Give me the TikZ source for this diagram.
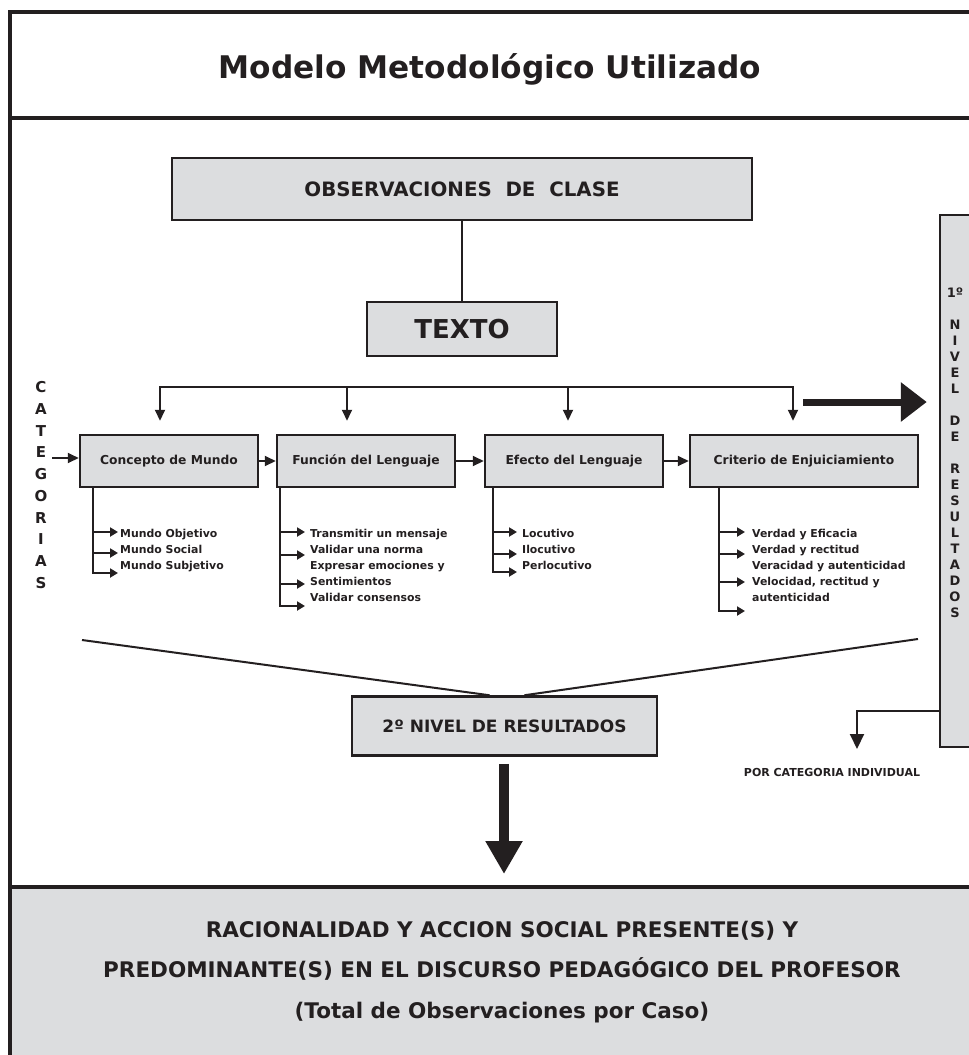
\documentclass[tikz,border=0pt]{standalone}
\usepackage{fontspec}
\setmainfont{DejaVu Sans}
\usetikzlibrary{arrows.meta, calc}
\definecolor{boxgray}{RGB}{220,221,223}
\definecolor{ink}{RGB}{35,31,32}
\tikzstyle{frameline} = [draw=ink, line width=4pt]
\tikzstyle{graybox} = [rectangle, draw=ink, line width=2.5pt, fill=boxgray, inner sep=0pt]
\tikzstyle{catbox} = [graybox, minimum width=178pt, minimum height=52pt, font=\bfseries\fontsize{12.3}{14}\selectfont]
\tikzstyle{conn} = [draw=ink, line width=2pt]
\tikzstyle{arrow} = [conn, -{Triangle[length=11pt,width=10pt]}]
\tikzstyle{smallarrow} = [conn, -{Triangle[length=8pt,width=9pt]}]
\tikzstyle{bigarrow} = [draw=ink, line width=10pt, -{Triangle[length=33pt,width=35pt]}]
\tikzstyle{items} = [anchor=north west, align=left, inner sep=0pt, font=\bfseries\fontsize{10.9}{16}\selectfont]

\begin{document}
\begin{tikzpicture}[x=1pt, y=-1pt, font=\bfseries, text=ink]
	\useasboundingbox (0,0) rectangle (969,1055);
	\clip (0,0) rectangle (969,1055);
	% marco general
	\fill[boxgray] (10,887) rectangle (1000,1100);
	\draw[frameline] (10,12) rectangle (1000,1100);
	\draw[frameline] (10,118) -- (1000,118);
	\draw[frameline] (10,887) -- (1000,887);
	\node (titulo) [font=\bfseries\fontsize{31.2}{36}\selectfont] at (490,69) {Modelo Metodológico Utilizado};

	\node (obs) [graybox, minimum width=580pt, minimum height=62pt, font=\bfseries\fontsize{19.8}{22}\selectfont] at (462,189) {OBSERVACIONES\ \ DE\ \ CLASE};
	\node (texto) [graybox, minimum width=190pt, minimum height=54pt, font=\bfseries\fontsize{26}{28}\selectfont] at (462,329) {TEXTO};
	\node (concepto) [catbox] at (169,461) {Concepto de Mundo};
	\node (funcion) [catbox] at (366,461) {Función del Lenguaje};
	\node (efecto) [catbox] at (574,461) {Efecto del Lenguaje};
	\node (criterio) [catbox, minimum width=228pt] at (804,461) {Criterio de Enjuiciamiento};
	\node (cat) [align=center, font=\bfseries\fontsize{15}{21.7}\selectfont] at (41,485) {C\\A\\T\\E\\G\\O\\R\\I\\A\\S};
	\node (nivel1) [graybox, minimum width=31pt, minimum height=532pt] at (955.5,481) {};
	\node (nivel1txt) [align=center, font=\bfseries\fontsize{13}{16}\selectfont] at (955,453) {1º\\[16pt]N\\I\\V\\E\\L\\[16pt]D\\E\\[16pt]R\\E\\S\\U\\L\\T\\A\\D\\O\\S};
	\node (nivel2) [graybox, minimum width=305pt, minimum height=59pt, font=\bfseries\fontsize{17}{20}\selectfont] at (504.5,726) {2º NIVEL DE RESULTADOS};
	\node (porcat) [font=\bfseries\fontsize{11}{12}\selectfont] at (832,772) {POR CATEGORIA INDIVIDUAL};
	\node (final) [align=center, font=\bfseries\fontsize{21.5}{40.5}\selectfont] at (502,972) {RACIONALIDAD Y ACCION SOCIAL PRESENTE(S) Y\\PREDOMINANTE(S) EN EL DISCURSO PEDAGÓGICO DEL PROFESOR\\(Total de Observaciones por Caso)};

	% listas de cada categoria
	\node (lista1) [items] at (120,529) {Mundo Objetivo\\Mundo Social\\Mundo Subjetivo};
	\node (lista2) [items] at (310,529) {Transmitir un mensaje\\Validar una norma\\Expresar emociones y\\Sentimientos\\Validar consensos};
	\node (lista3) [items] at (522,529) {Locutivo\\Ilocutivo\\Perlocutivo};
	\node (lista4) [items] at (752,529) {Verdad y Eficacia\\Verdad y rectitud\\Veracidad y autenticidad\\Velocidad, rectitud y\\autenticidad};

	\draw [conn](obs)--(texto);
	\coordinate (d1) at (160,387);
	\coordinate (d2) at (347,387);
	\coordinate (d3) at (568,387);
	\coordinate (d4) at (793,387);
	\draw [conn, line cap=rect](d1)--(d4);
	\foreach \d in {d1,d2,d3,d4}
		\draw [arrow, shorten >=13pt](\d)--(\d |- concepto.north);
	\coordinate (ra) at (803,402);
	\draw [bigarrow, line width=7pt, -{Triangle[length=26pt,width=38pt]}, shorten >=12pt](ra)--(ra -| nivel1.west);

	\coordinate (ce) at (52,458);
	\draw [arrow](ce)--(ce -| concepto.west);
	\draw [arrow](concepto)--(funcion);
	\draw [arrow](funcion)--(efecto);
	\draw [arrow](efecto)--(criterio);

	\draw [smallarrow]([xshift=14pt]concepto.south west) |- (118,573);
	\foreach \y in {532,553} \draw [smallarrow](94,\y)--(118,\y);
	\draw [smallarrow]([xshift=4pt]funcion.south west) |- (305,606);
	\foreach \y in {532,555,584} \draw [smallarrow](281,\y)--(305,\y);
	\draw [smallarrow]([xshift=9pt]efecto.south west) |- (517,572);
	\foreach \y in {532,554} \draw [smallarrow](494,\y)--(517,\y);
	\draw [smallarrow]([xshift=30pt]criterio.south west) |- (745,611);
	\foreach \y in {532,554,582} \draw [smallarrow](720,\y)--(745,\y);

	\coordinate (fl) at (82,640);
	\coordinate (fr) at (918,639);
	\draw [conn](fl)--([xshift=-15pt]nivel2.north);
	\draw [conn](fr)--([xshift=20pt]nivel2.north);
	\coordinate (dtip) at (504,874);
	\draw [bigarrow]([yshift=-7pt]nivel2.south -| dtip)--(dtip);

	\coordinate (pc) at (857,711);
	\coordinate (ptip) at (857,749);
	\draw [arrow, -{Triangle[length=15pt,width=14pt]}](nivel1.west |- pc)--(pc)--(ptip);
\end{tikzpicture}
\end{document}
